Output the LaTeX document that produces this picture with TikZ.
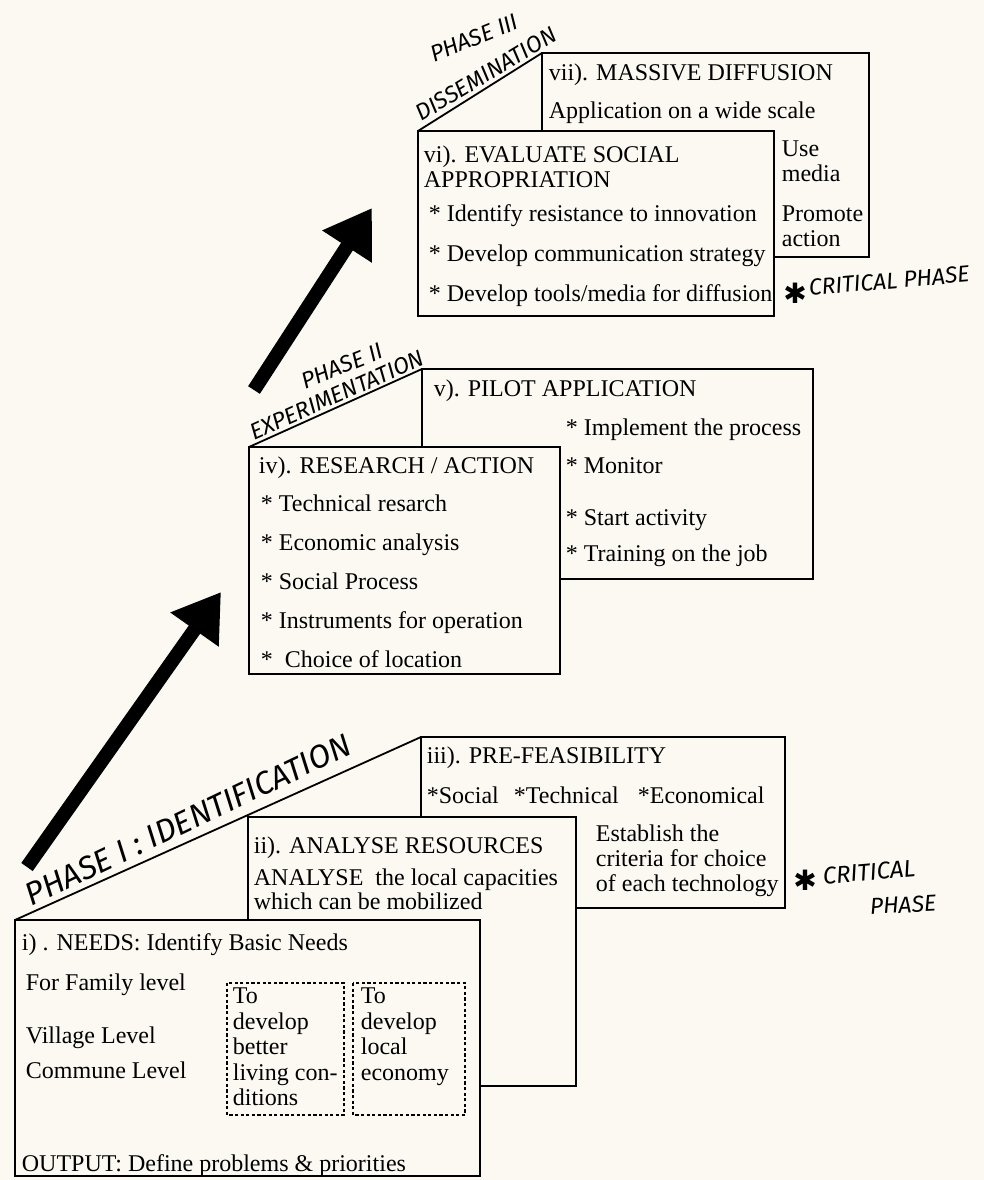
\documentclass[tikz,border=0pt]{standalone}
\usepackage{fontspec}
\setmainfont{Liberation Serif}
\newfontfamily\handfont{Fira Sans}
\newfontfamily\symfont{DejaVu Sans}
\usetikzlibrary{arrows.meta,positioning}
\definecolor{paper}{RGB}{251,249,242}

\begin{document}
\begin{tikzpicture}[x=0.5pt,y=-0.5pt,line width=0.9pt,
 txt/.style={anchor=west,inner sep=0pt,font=\fontsize{12}{14}\selectfont,text height=8pt,text depth=0pt},
 hand/.style={inner sep=0pt,font=\handfont\itshape\fontsize{11.5}{12}\selectfont},
 star/.style={inner sep=0pt,font=\symfont\fontsize{14}{14}\selectfont},
 dots/.style={dash pattern=on 1.6pt off 1.2pt,line width=0.8pt},
 bigarrow/.style={line width=7pt,-{Triangle[length=23pt,width=28pt]}}]

\fill[paper] (0,0) rectangle (984,1180);

% phase III
\draw (542,131)--(542,53)--(869,53)--(869,257)--(774,257);
\draw (418,131) rectangle (774,316);
\draw (542,53)--(418,131);
\node[hand,rotate=22] (ph3) at (474,38) {PHASE III};
\node[hand,rotate=31] (dis) at (486,74) {DISSEMINATION};
\node[txt] (vii) at (548,72) {vii). MASSIVE DIFFUSION};
\node[txt] (wide) at (548,110) {Application on a wide scale};
\node[txt] (vi) at (423,154) {vi). EVALUATE SOCIAL};
\node[txt] (appr) at (423,179) {APPROPRIATION};
\foreach \t [count=\i] in {* Identify resistance to innovation,* Develop communication strategy,* Develop tools/media for diffusion}
  \node[txt] (vi\i) at (428,{173+40*\i}) {\t};
\foreach \t/\y [count=\i] in {Use/148,media/173,Promote/213,action/238}
  \node[txt] (med\i) at (781,\y) {\t};
\node[star] (st1) at (795,293) {✱};
\node[hand,rotate=5,anchor=west] (crit1) at (808,288) {CRITICAL PHASE};

% phase II
\draw (422,447)--(422,369)--(813,369)--(813,579)--(560,579);
\draw (249,447) rectangle (560,674);
\draw (422,369)--(249,447);
\node[hand,rotate=22] (ph2) at (342,366) {PHASE II};
\node[hand,rotate=24] (exp) at (337,395) {EXPERIMENTATION};
\node[txt] (v) at (433,388) {v). PILOT APPLICATION};
\foreach \t/\y [count=\i] in {* Implement the process/427,* Monitor/465,* Start activity/517,* Training on the job/553}
  \node[txt] (v\i) at (565,\y) {\t};
\node[txt] (iv) at (258,465) {iv). RESEARCH / ACTION};
\foreach \t [count=\i] in {* Technical resarch,* Economic analysis,* Social Process,* Instruments for operation,*\ \ Choice of location}
  \node[txt] (iv\i) at (260,{464+39*\i}) {\t};

% phase I
\draw (421,817)--(421,737)--(785,737)--(785,908)--(576,908);
\draw (248,920)--(248,817)--(576,817)--(576,1086)--(480,1086);
\draw (15,920) rectangle (480,1176);
\draw (421,737)--(15,920);
\node[hand,rotate=25.5,font=\handfont\itshape\fontsize{16}{16}\selectfont] (ph1) at (188,820) {PHASE I : IDENTIFICATION};
\node[txt] (iii) at (426,755) {iii). PRE-FEASIBILITY};
\foreach \t/\x [count=\i] in {*Social/426,*Technical/513,*Economical/637}
  \node[txt] (crit\i) at (\x,795) {\t};
\foreach \t [count=\i] in {Establish the,criteria for choice,of each technology}
  \node[txt] (est\i) at (595,{808+25*\i}) {\t};
\node[star] (st2) at (805,880) {✱};
\node[hand,rotate=5,anchor=west,font=\handfont\itshape\fontsize{12}{12}\selectfont] (crit2) at (822,876) {CRITICAL};
\node[hand,rotate=3,font=\handfont\itshape\fontsize{11.5}{11.5}\selectfont] (crit3) at (903,905) {PHASE};
\node[txt] (ii) at (253,845) {ii). ANALYSE RESOURCES};
\node[txt] (ana) at (253,877) {ANALYSE\ \ the local capacities};
\node[txt] (mob) at (253,901) {which can be mobilized};
\node[txt] (i) at (21,942) {i) . NEEDS: Identify Basic Needs};
\foreach \t/\y [count=\i] in {For Family level/982,Village Level/1035,Commune Level/1070}
  \node[txt] (lev\i) at (25,\y) {\t};
\node[txt] (out) at (21,1163) {OUTPUT: Define problems \& priorities};
\draw[dots] (227,983) rectangle (344,1115);
\draw[dots] (353,983) rectangle (465,1115);
\foreach \t [count=\i] in {To,develop,better,living con-,ditions}
  \node[txt] (liv\i) at (232,{970+25.5*\i}) {\t};
\foreach \t [count=\i] in {To,develop,local,economy}
  \node[txt] (eco\i) at (360,{970+25.5*\i}) {\t};

% arrows
\coordinate (a1) at (27,867);
\coordinate (b1) at (221,592);
\coordinate (a2) at (254,390);
\coordinate (b2) at (372,208);
\draw[bigarrow] (a1)--(b1);
\draw[bigarrow] (a2)--(b2);
\end{tikzpicture}
\end{document}
